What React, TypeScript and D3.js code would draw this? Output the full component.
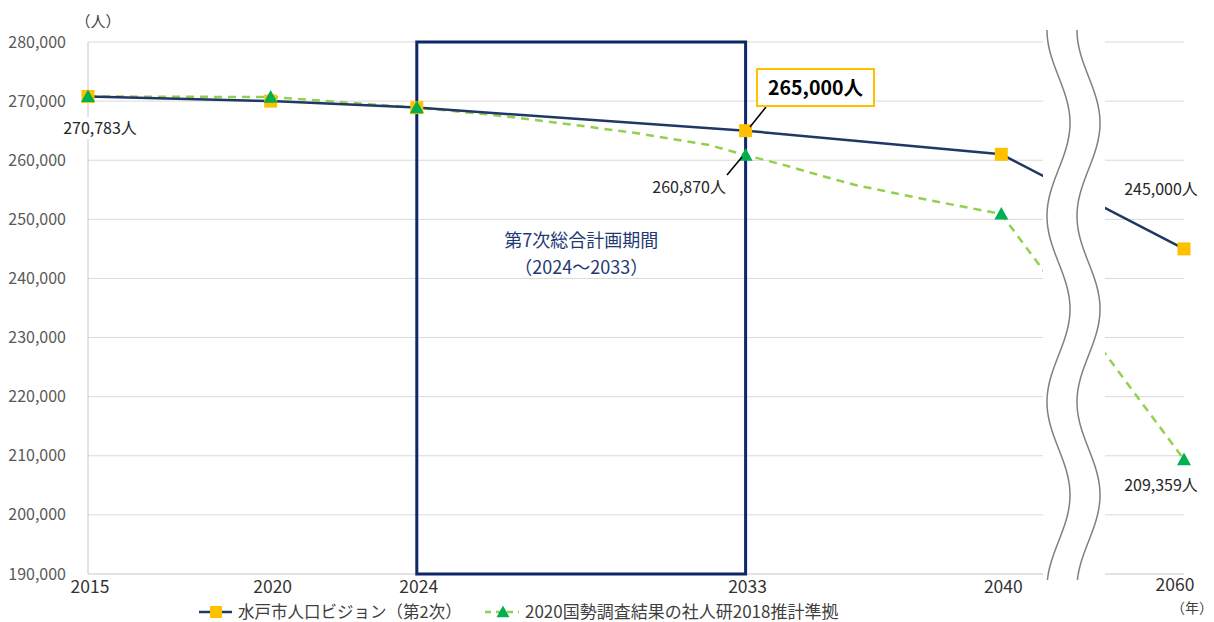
import React from 'react';
import * as d3 from 'd3';

// 水戸市人口ビジョン（第2次）
const visionYears = [2015, 2020, 2024, 2033, 2040, 2060];
const visionValues = [270783, 270000, 268900, 265000, 261000, 245000];

// 2020国勢調査結果の社人研2018推計準拠
const ipssYears = [2015, 2020, 2024, 2026, 2028, 2030, 2032, 2033, 2034, 2035, 2036, 2037, 2038, 2039, 2040, 2060];
const ipssValues = [270783, 270685, 268900, 267735, 266210, 264600, 262575, 260870, 259280, 257500, 255810, 254540, 253270, 252090, 250900, 209359];
const ipssMarkerYears = [2015, 2020, 2024, 2033, 2040, 2060];

const xTickYears = [2015, 2020, 2024, 2033, 2040, 2060];
const yTicks = [190000, 200000, 210000, 220000, 230000, 240000, 250000, 260000, 270000, 280000];
const periodYears = [2024, 2033];
const legendLabels = ['水戸市人口ビジョン（第2次）', '2020国勢調査結果の社人研2018推計準拠'];

const W = 1214;
const H = 622;
const FONT = '"Noto Sans CJK JP", "Noto Sans", sans-serif';
const NAVY = '#203864';
const GOLD = '#FFC000';
const LIGHTGREEN = '#92D050';
const GREEN = '#00B050';
const BOXNAVY = '#0E2766';

// 2060 is drawn in the slot after the axis break
const slot = (y: number) => (y === 2060 ? 2045 : y);

export default function App() {
  const x = d3.scaleLinear().domain([2015, 2045]).range([88, 1184]);
  const y = d3.scaleLinear().domain([190000, 280000]).range([574, 42]);
  const fmt = d3.format(',');

  const breakL = 1043;
  const breakR = 1105;

  const vision = visionYears.map((yr, i) => ({ yr, v: visionValues[i] }));
  const ipss = ipssYears.map((yr, i) => ({ yr, v: ipssValues[i] }));

  const line = d3
    .line<{ yr: number; v: number }>()
    .x((d) => x(slot(d.yr)))
    .y((d) => y(d.v));

  const wave = (x0: number) => {
    const ys = d3.range(30, 581, 2);
    return d3
      .line<number>()
      .x((yy) => x0 + (23 * (1 - Math.cos((Math.PI * (yy - 30)) / 93))) / 2)
      .y((yy) => yy)(ys) as string;
  };

  const tri = (cx: number, cy: number, s = 7) =>
    `M${cx},${cy - s}L${cx + s},${cy + s * 0.8}L${cx - s},${cy + s * 0.8}Z`;

  const ipssMarkers = ipss.filter((d) => ipssMarkerYears.includes(d.yr));

  const px0 = x(periodYears[0]);
  const px1 = x(periodYears[1]);

  const lbl = (v: number) => fmt(v) + '人';

  return (
    <div style={{ position: 'fixed', left: 0, top: 0 }}>
      <svg width={W} height={H} style={{ display: 'block', fontFamily: FONT }}>
        <defs>
          <clipPath id="plotClip">
            <rect x={0} y={0} width={breakL} height={H} />
            <rect x={breakR} y={0} width={W - breakR} height={H} />
          </clipPath>
        </defs>
        <rect width={W} height={H} fill="#fff" />

        {/* grid */}
        <g clipPath="url(#plotClip)">
          {yTicks.slice(1).map((t) => (
            <line key={t} x1={x(2015)} x2={x(2045)} y1={y(t)} y2={y(t)} stroke="#d9d9d9" strokeWidth={1} />
          ))}
          <line x1={x(2015)} x2={x(2045)} y1={y(190000)} y2={y(190000)} stroke="#c8c8c8" strokeWidth={1} />
        </g>
        <line x1={x(2015)} x2={x(2015)} y1={y(280000)} y2={y(190000)} stroke="#c8c8c8" strokeWidth={1} />

        {/* y tick labels */}
        {yTicks.map((t) => (
          <text key={t} x={66} y={y(t)} dy="0.35em" textAnchor="end" fontSize={16} fill="#595959">
            {fmt(t)}
          </text>
        ))}
        <text x={98} y={22} dy="0.35em" textAnchor="middle" fontSize={15} fill="#404040">
          （人）
        </text>

        {/* x tick labels */}
        {xTickYears.map((yr) => (
          <text key={yr} x={x(slot(yr)) + (yr === 2060 ? -9 : 2)} y={yr === 2060 ? 585 : 587} dy="0.35em" textAnchor="middle" fontSize={17.5} fill="#333">
            {yr}
          </text>
        ))}
        <text x={1213} y={608} dy="0.35em" textAnchor="end" fontSize={14} fill="#404040">
          （年）
        </text>

        {/* plan period box */}
        <rect x={px0} y={y(280000)} width={px1 - px0} height={y(190000) - y(280000)} fill="none" stroke={BOXNAVY} strokeWidth={3} />
        <text x={(px0 + px1) / 2} y={241} dy="0.35em" textAnchor="middle" fontSize={18} fill="#1F3A73">
          第7次総合計画期間
        </text>
        <text x={(px0 + px1) / 2} y={268} dy="0.35em" textAnchor="middle" fontSize={18} fill="#1F3A73">
          （2024～2033）
        </text>

        {/* series lines */}
        <g clipPath="url(#plotClip)">
          <path d={line(ipss) as string} fill="none" stroke={LIGHTGREEN} strokeWidth={2.5} strokeDasharray="8,6" />
          <path d={line(vision) as string} fill="none" stroke={NAVY} strokeWidth={2.5} />
        </g>

        {/* markers */}
        {vision.map((d) => (
          <rect key={d.yr} x={x(slot(d.yr)) - 6.5} y={y(d.v) - 6.5} width={13} height={13} fill={GOLD} />
        ))}
        {ipssMarkers.map((d) => (
          <path key={d.yr} d={tri(x(slot(d.yr)), y(d.v))} fill={GREEN} />
        ))}

        {/* axis break */}
        <path d={wave(1047)} fill="none" stroke="#808080" strokeWidth={1.5} />
        <path d={wave(1077)} fill="none" stroke="#808080" strokeWidth={1.5} />

        {/* data labels */}
        <rect x={58} y={117} width={84} height={22} fill="#fff" />
        <text x={100} y={128} dy="0.35em" textAnchor="middle" fontSize={16} fill="#262626">
          {lbl(visionValues[0])}
        </text>

        <line x1={727} y1={175} x2={742} y2={157} stroke="#000" strokeWidth={1.5} />
        <text x={726} y={187} dy="0.35em" textAnchor="end" fontSize={16} fill="#262626">
          {lbl(ipssValues[7])}
        </text>

        <line x1={766} y1={107} x2={750} y2={127} stroke="#000" strokeWidth={1.5} />
        <rect x={757} y={69} width={117} height={37} fill="#fff" stroke={GOLD} strokeWidth={2} />
        <text x={815.5} y={88} dy="0.35em" textAnchor="middle" fontSize={19.5} fontWeight="bold" fill="#000">
          {lbl(visionValues[3])}
        </text>

        <text x={1161} y={189} dy="0.35em" textAnchor="middle" fontSize={16} fill="#262626">
          {lbl(visionValues[5])}
        </text>
        <text x={1161} y={485} dy="0.35em" textAnchor="middle" fontSize={16} fill="#262626">
          {lbl(ipssValues[ipssValues.length - 1])}
        </text>

        {/* legend */}
        <g>
          <line x1={199} x2={232} y1={612} y2={612} stroke={NAVY} strokeWidth={2.5} />
          <rect x={210} y={606} width={12} height={12} fill={GOLD} />
          <text x={238} y={612} dy="0.35em" fontSize={16.5} fill="#404040">
            {legendLabels[0]}
          </text>
          <line x1={485} x2={519} y1={612} y2={612} stroke={LIGHTGREEN} strokeWidth={2.5} strokeDasharray="6,5" />
          <path d={tri(503, 612, 6.5)} fill={GREEN} />
          <text x={525} y={612} dy="0.35em" fontSize={17} fill="#404040">
            {legendLabels[1]}
          </text>
        </g>
      </svg>
    </div>
  );
}
